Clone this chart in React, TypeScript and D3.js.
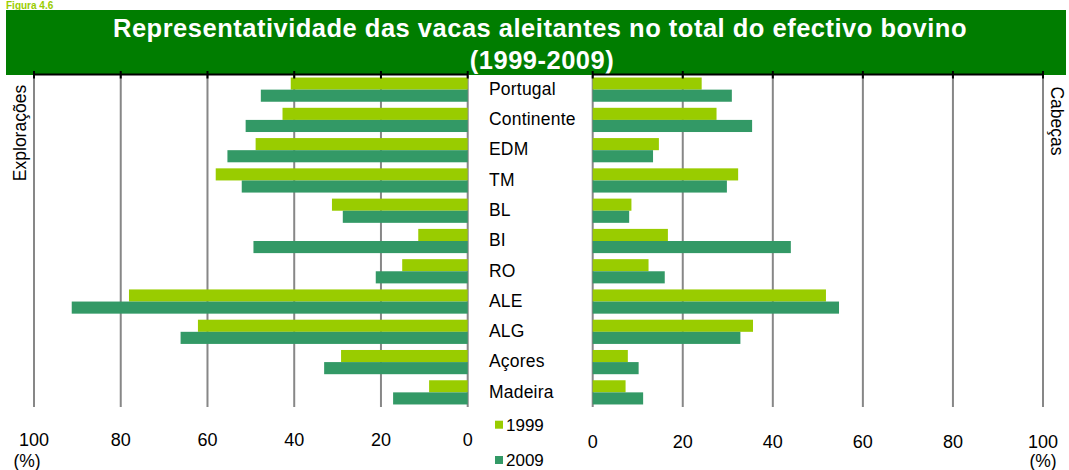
import React from "react";
import * as d3 from "d3";

const categories = ["Portugal", "Continente", "EDM", "TM", "BL", "BI", "RO", "ALE", "ALG", "Açores", "Madeira"];
const exploracoes1999 = [40.8, 42.7, 48.9, 58.1, 31.3, 11.4, 15.1, 78.1, 62.2, 29.2, 8.9];
const exploracoes2009 = [47.7, 51.2, 55.4, 52.1, 28.8, 49.4, 21.2, 91.3, 66.2, 33.1, 17.2];
const cabecas1999 = [24.2, 27.5, 14.7, 32.3, 8.6, 16.7, 12.4, 51.8, 35.6, 7.8, 7.3];
const cabecas2009 = [30.9, 35.4, 13.4, 29.8, 8.1, 44.0, 16.0, 54.7, 32.8, 10.2, 11.2];
const ticks = [0, 20, 40, 60, 80, 100];
const seriesNames = ["1999", "2009"];
const titleLines = ["Representatividade das vacas aleitantes no total do efectivo bovino", "(1999-2009)"];

const C1999 = "#99CC00";
const C2009 = "#339966";
const FONT = "'Liberation Sans', Arial, sans-serif";

export default function App() {
  const W = 1069, H = 470;
  const yBand = d3.scaleBand<string>().domain(categories).range([74.5, 407.5]).paddingInner(0.2).paddingOuter(0.1);
  const xL = d3.scaleLinear().domain([0, 100]).range([467.7, 34]);
  const xR = d3.scaleLinear().domain([0, 100]).range([592.7, 1043]);
  const bw = yBand.bandwidth() / 2;
  const top = 74.5, bottom = 407;
  const FS = 17.5;

  const gridLines = (x: d3.ScaleLinear<number, number>, key: string) => (
    <g key={key}>
      {ticks.map((t) => (
        <line key={"g" + t} x1={x(t)} x2={x(t)} y1={top} y2={bottom} stroke="#878787" strokeWidth={2} />
      ))}
    </g>
  );
  const topAxis = (x: d3.ScaleLinear<number, number>, key: string) => (
    <g key={key}>
      <line x1={x(0)} x2={x(100)} y1={top} y2={top} stroke="#000" strokeWidth={2} />
      {ticks.map((t) => (
        <line key={"t" + t} x1={x(t)} x2={x(t)} y1={top - 3.5} y2={top + 4} stroke="#000" strokeWidth={2} />
      ))}
    </g>
  );

  return (
    <div style={{ position: "absolute", left: 0, top: 0 }}>
      <svg width={W} height={H} style={{ display: "block" }} fontFamily={FONT}>
        <rect x={0} y={0} width={W} height={H} fill="#fff" />
        <text x={6} y={8.5} fontSize={10} fontWeight="bold" fill={C1999}>Figura 4.6</text>
        <rect x={6} y={10} width={1060} height={65} fill="#007D00" />
        <text x={540} y={37} textAnchor="middle" fontSize={25.5} letterSpacing={0.5} fontWeight="bold" fill="#fff">{titleLines[0]}</text>
        <text x={542} y={69} textAnchor="middle" fontSize={25.5} letterSpacing={0.5} fontWeight="bold" fill="#fff">{titleLines[1]}</text>

        {gridLines(xL, "gl")}
        {gridLines(xR, "gr")}

        {categories.map((c, i) => {
          const y0 = yBand(c)!;
          return (
            <g key={c}>
              <rect x={xL(exploracoes1999[i])} y={y0} width={xL(0) - xL(exploracoes1999[i])} height={bw} fill={C1999} />
              <rect x={xL(exploracoes2009[i])} y={y0 + bw} width={xL(0) - xL(exploracoes2009[i])} height={bw} fill={C2009} />
              <rect x={xR(0)} y={y0} width={xR(cabecas1999[i]) - xR(0)} height={bw} fill={C1999} />
              <rect x={xR(0)} y={y0 + bw} width={xR(cabecas2009[i]) - xR(0)} height={bw} fill={C2009} />
              <text x={489} y={y0 + yBand.bandwidth() / 2 - 1} dy="0.36em" fontSize={FS} letterSpacing={0.2} fill="#000">{c}</text>
            </g>
          );
        })}

        {topAxis(xL, "al")}
        {topAxis(xR, "ar")}

        {ticks.map((t) => (
          <text key={"ll" + t} x={xL(t)} y={440} dy="0.36em" textAnchor="middle" fontSize={18} fill="#000">{t}</text>
        ))}
        {ticks.map((t) => (
          <text key={"rl" + t} x={xR(t)} y={442} dy="0.36em" textAnchor="middle" fontSize={18} fill="#000">{t}</text>
        ))}
        <text x={27} y={461} dy="0.36em" textAnchor="middle" fontSize={FS} fill="#000">(%)</text>
        <text x={1043} y={460.5} dy="0.36em" textAnchor="middle" fontSize={FS} fill="#000">(%)</text>

        <text transform="translate(20,133) rotate(-90)" textAnchor="middle" dy="0.36em" fontSize={FS} fill="#000">Explorações</text>
        <text transform="translate(1057,121) rotate(90)" textAnchor="middle" dy="0.36em" fontSize={FS} fill="#000">Cabeças</text>

        {seriesNames.map((s, i) => (
          <g key={s}>
            <rect x={495} y={420.7 + i * 35.3} width={8} height={8} fill={i === 0 ? C1999 : C2009} />
            <text x={506} y={425 + i * 35.3} dy="0.36em" fontSize={17} fill="#000">{s}</text>
          </g>
        ))}
      </svg>
    </div>
  );
}
